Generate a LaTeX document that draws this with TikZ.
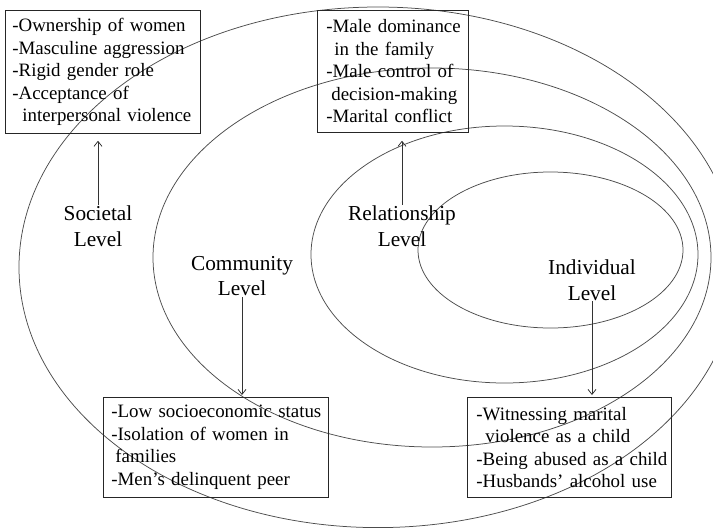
\documentclass[tikz,border=0pt]{standalone}
\usepackage{fontspec}
\setmainfont{Liberation Serif}
\usetikzlibrary{arrows.meta}
\newcommand\indt[1]{\hspace*{#1pt}}
\begin{document}
\begin{tikzpicture}[x=1pt,y=-1pt,
  ring/.style={draw=black!70, line width=0.75pt},
  infobox/.style={draw=black!85, line width=0.75pt, anchor=north west, inner ysep=0pt, align=left,
    font=\fontsize{18.9}{22.5}\selectfont},
  lvl/.style={align=center, inner sep=1pt, font=\fontsize{21.3}{25.5}\selectfont},
  conn/.style={draw=black!80, line width=0.75pt, -{Straight Barb[length=5pt,width=8pt]}}]
\useasboundingbox (0,0) rectangle (713,528);
\begin{scope}
\clip (0,0) rectangle (713,528);
\draw[ring] (378,267.3) ellipse [x radius=359pt, y radius=260.3pt];
\draw[ring] (432,257.5) ellipse [x radius=279pt, y radius=189.5pt];
\draw[ring] (504.5,254.5) ellipse [x radius=193.5pt, y radius=128.5pt];
\draw[ring] (550.5,250) ellipse [x radius=132.5pt, y radius=78pt];
\end{scope}

\node[infobox, minimum width=195pt, minimum height=123pt, inner xsep=7pt, text width=181pt] (socbox) at (5,10)
  {\mbox{-Ownership of women}\\\mbox{-Masculine aggression}\\\mbox{-Rigid gender role}\\\mbox{-Acceptance of}\\\mbox{\indt{10}interpersonal violence}};
\node[infobox, minimum width=151pt, minimum height=122pt, inner xsep=9pt, text width=133pt] (relbox) at (317,10)
  {\mbox{-Male dominance}\\\mbox{\indt{8}in the family}\\\mbox{-Male control of}\\\mbox{\indt{5}decision-making}\\\mbox{-Marital conflict}};
\node[infobox, minimum width=225pt, minimum height=100pt, inner xsep=8pt, text width=209pt] (combox) at (103,397)
  {\mbox{-Low socioeconomic status}\\\mbox{-Isolation of women in}\\\mbox{\indt{4}families}\\\mbox{-Men's delinquent peer}};
\node[infobox, minimum width=204pt, minimum height=100pt, inner xsep=9pt, text width=186pt] (indbox) at (467,397)
  {\mbox{-Witnessing marital}\\\mbox{\indt{9}violence as a child}\\\mbox{-Being abused as a child}\\\mbox{-Husbands' alcohol use}};

\node[lvl] (soc) at (98,226) {Societal\\Level};
\node[lvl] (rel) at (402,226) {Relationship\\Level};
\node[lvl] (com) at (242,276) {Community\\Level};
\node[lvl] (ind) at (592,280) {Individual\\Level};

\draw[conn, shorten >=7pt] (soc.north) -- (soc.north |- socbox.south);
\draw[conn, shorten >=8pt] (rel.north) -- (rel.north |- relbox.south);
\draw[conn, shorten >=2pt] (com.south) -- (com.south |- combox.north);
\draw[conn, shorten >=2pt] (ind.south) -- (ind.south |- indbox.north);
\end{tikzpicture}
\end{document}
